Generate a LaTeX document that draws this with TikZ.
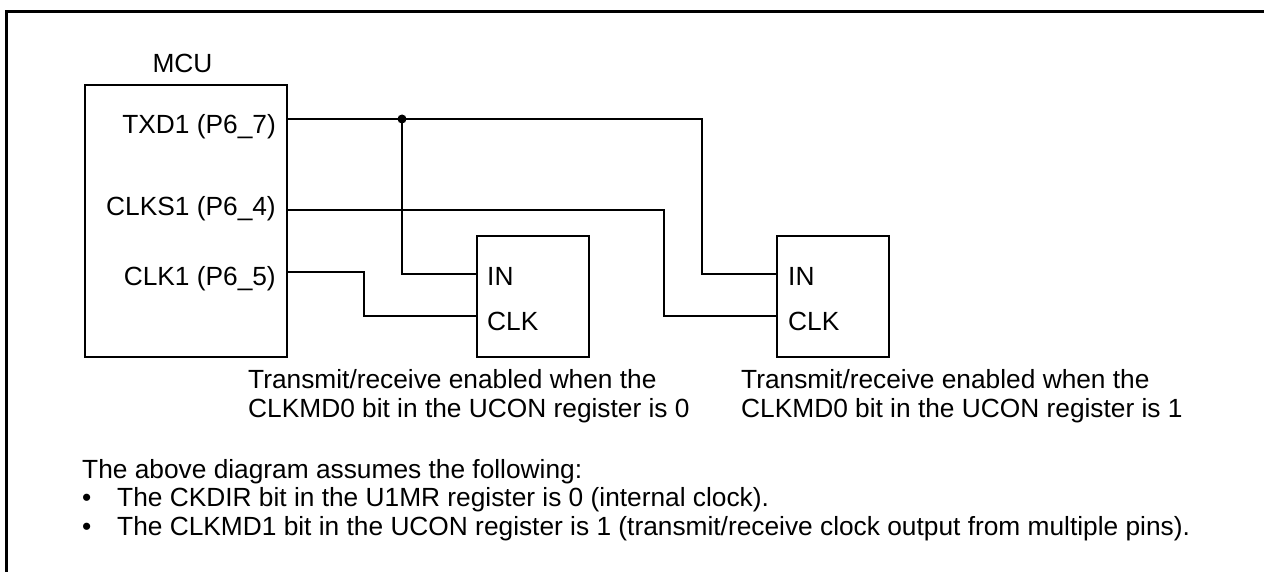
\documentclass[tikz,border=0pt]{standalone}
\usepackage{fontspec}
\setmainfont{Liberation Sans}
\begin{document}
\begin{tikzpicture}[x=1pt,y=-1pt,
  wire/.style={line width=2pt},
  blk/.style={draw,line width=2pt,inner sep=0pt},
  lbl/.style={inner sep=0pt,font=\fontsize{26.3}{29}\selectfont},
  frame/.style={line width=3pt}]
\useasboundingbox (0,0) rectangle (1264,572);
% frame (cut off at right and bottom)
\coordinate (ftl) at (6.5,11.5);
\coordinate (ftr) at (1264,11.5);
\coordinate (fbl) at (6.5,572);
\draw[frame] (ftr) -- (ftl) -- (fbl);
% blocks
\node[blk,minimum width=202pt,minimum height=272pt] (mcu) at (186,221) {};
\node[blk,minimum width=112pt,minimum height=121pt] (b1) at (533,296.5) {};
\node[blk,minimum width=112pt,minimum height=121pt] (b2) at (833,296.5) {};
% labels
\node[lbl,anchor=base] (mcut) at (182.5,73) {MCU};
\node[lbl,anchor=base east] (ltxd) at (276,134) {TXD1 (P6\_7)};
\node[lbl,anchor=base east] (lclks) at (276,216) {CLKS1 (P6\_4)};
\node[lbl,anchor=base east] (lclk) at (276,286) {CLK1 (P6\_5)};
\node[lbl,anchor=base west] (in1) at (487,285) {IN};
\node[lbl,anchor=base west] (ck1) at (487,330) {CLK};
\node[lbl,anchor=base west] (in2) at (788,285) {IN};
\node[lbl,anchor=base west] (ck2) at (788,330) {CLK};
\node[lbl,anchor=base west] (n1a) at (248,388) {Transmit/receive enabled when the};
\node[lbl,anchor=base west] (n1b) at (248,417) {CLKMD0 bit in the UCON register is 0};
\node[lbl,anchor=base west] (n2a) at (741,388) {Transmit/receive enabled when the};
\node[lbl,anchor=base west] (n2b) at (741,417) {CLKMD0 bit in the UCON register is 1};
\node[lbl,anchor=base west] (f0) at (82,478) {The above diagram assumes the following:};
\node[lbl,anchor=base west] (bu1) at (82,506) {•};
\node[lbl,anchor=base west] (f1) at (117,506) {The CKDIR bit in the U1MR register is 0 (internal clock).};
\node[lbl,anchor=base west] (bu2) at (82,535) {•};
\node[lbl,anchor=base west] (f2) at (117,535) {The CLKMD1 bit in the UCON register is 1 (transmit/receive clock output from multiple pins).};
% pin points
\coordinate (ptxd) at (mcu.east |- 0,119);
\coordinate (pclks) at (mcu.east |- 0,210);
\coordinate (pclk) at (mcu.east |- 0,272);
\coordinate (b1in) at (b1.west |- 0,274);
\coordinate (b1ck) at (b1.west |- 0,316);
\coordinate (b2in) at (b2.west |- 0,274);
\coordinate (b2ck) at (b2.west |- 0,316);
\coordinate (j) at (402,119);
% wires
\draw[wire] (ptxd) -- (j) -- (702,119) -- (702,274) -- (b2in);
\draw[wire] (j) -- (402,274) -- (b1in);
\draw[wire] (pclks) -- (664,210) -- (664,316) -- (b2ck);
\draw[wire] (pclk) -- (364,272) -- (364,316) -- (b1ck);
\fill (j) circle (4.5pt);
\end{tikzpicture}
\end{document}
